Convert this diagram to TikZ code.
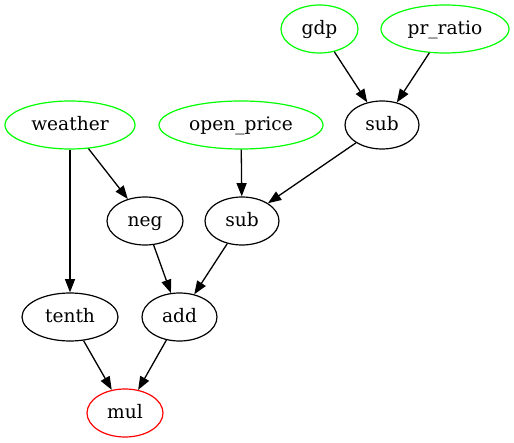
\documentclass[tikz,border=0pt]{standalone}
\usepackage{fontspec}
\setmainfont{DejaVu Serif}
\usetikzlibrary{shapes.geometric,arrows.meta}
\definecolor{gvgreen}{RGB}{0,255,0}
\definecolor{gvred}{RGB}{255,0,0}
\tikzset{
  gvnode/.style={ellipse, draw, line width=1.2pt, inner sep=0pt, minimum height=48pt,
    text height=15pt, text depth=4pt,
    font=\fontsize{18.6}{22}\selectfont},
  innode/.style={gvnode, draw=gvgreen},
  outnode/.style={gvnode, draw=gvred},
  edge/.style={line width=1.3pt, -{Triangle[length=13.3pt,width=10pt]}}
}
\begin{document}
\begin{tikzpicture}[x=1pt,y=-1pt]
\useasboundingbox (0,0) rectangle (514,443);
\node[innode, minimum width=77pt]  (gdp)   at (319.5,29) {gdp};
\node[innode, minimum width=128pt] (pr)    at (445,29)   {pr\_ratio};
\node[innode, minimum width=130pt] (weather) at (70,125) {weather};
\node[innode, minimum width=164pt] (open)  at (241,125)  {open\_price};
\node[gvnode, minimum width=74pt]  (subA)  at (382,125)  {sub};
\node[gvnode, minimum width=76pt]  (neg)   at (145,221)  {neg};
\node[gvnode, minimum width=74pt]  (subB)  at (242,221)  {sub};
\node[gvnode, minimum width=96pt]  (tenth) at (70,317)   {tenth};
\node[gvnode, minimum width=75pt]  (add)   at (179.5,317) {add};
\node[outnode, minimum width=76pt] (mul)   at (125,413)  {mul};
\draw[edge] (gdp) -- (subA);
\draw[edge] (pr) -- (subA);
\draw[edge] (subA) -- (subB);
\draw[edge] (open) -- (subB);
\draw[edge] (weather) -- (neg);
\draw[edge] (weather) -- (tenth);
\draw[edge] (neg) -- (add);
\draw[edge] (subB) -- (add);
\draw[edge] (tenth) -- (mul);
\draw[edge] (add) -- (mul);
\end{tikzpicture}
\end{document}
